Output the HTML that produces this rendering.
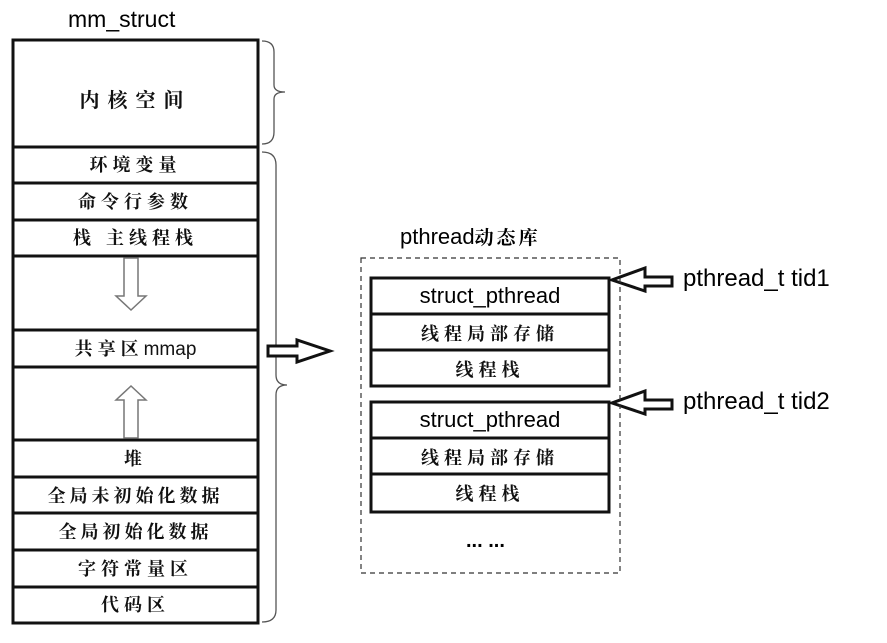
<!DOCTYPE html>
<html><head><meta charset="utf-8"><style>
body{margin:0;width:887px;height:643px;background:#fff;overflow:hidden;position:relative;font-family:"Liberation Sans","Noto Sans CJK SC",sans-serif;}
.t{position:absolute;white-space:nowrap;color:#000}
.c{position:absolute;text-align:center;font-family:"Liberation Sans","Noto Serif CJK SC",serif;font-weight:bold;font-size:18px;letter-spacing:5px;color:#111}
</style></head><body>
<svg width="887" height="643" style="position:absolute;left:0;top:0">
<g stroke="#111" stroke-width="3" fill="none">
<rect x="13" y="40" width="245" height="583"/>
<line x1="13" y1="147" x2="258" y2="147"/>
<line x1="13" y1="183" x2="258" y2="183"/>
<line x1="13" y1="220" x2="258" y2="220"/>
<line x1="13" y1="256" x2="258" y2="256"/>
<line x1="13" y1="330" x2="258" y2="330"/>
<line x1="13" y1="367" x2="258" y2="367"/>
<line x1="13" y1="440" x2="258" y2="440"/>
<line x1="13" y1="477" x2="258" y2="477"/>
<line x1="13" y1="513" x2="258" y2="513"/>
<line x1="13" y1="550" x2="258" y2="550"/>
<line x1="13" y1="587" x2="258" y2="587"/>
<rect x="371" y="278" width="238" height="108"/>
<line x1="371" y1="314" x2="609" y2="314"/>
<line x1="371" y1="350" x2="609" y2="350"/>
<rect x="371" y="402" width="238" height="110"/>
<line x1="371" y1="438" x2="609" y2="438"/>
<line x1="371" y1="474" x2="609" y2="474"/>
</g>
<g stroke="#555" stroke-width="1.3" fill="none">
<path d="M262 41 Q274 41 274 52 L274 85 Q274 92 285 92 Q274 92 274 99 L274 132 Q274 144 262 144"/>
<path d="M262 152 Q276 152 276 165 L276 375 Q276 385 287 385 Q276 385 276 395 L276 610 Q276 622 262 622"/>
</g>
<g stroke="#777" stroke-width="1.5" fill="#fff">
<path d="M124 258 L138 258 L138 296 L146 296 L131 310 L116 296 L124 296 Z"/>
<path d="M124 438 L138 438 L138 400 L146 400 L131 386 L116 400 L124 400 Z"/>
</g>
<g stroke="#111" stroke-width="3" fill="#fff">
<path d="M268 346 L297 346 L297 340 L330 351 L297 362 L297 356 L268 356 Z"/>
<path d="M672 277 L645 277 L645 268 L612 280 L645 291 L645 286 L672 286 Z"/>
<path d="M672 400 L645 400 L645 391 L612 403 L645 414 L645 409 L672 409 Z"/>
</g>
<rect x="361" y="258" width="259" height="315" fill="none" stroke="#333" stroke-width="1.2" stroke-dasharray="5,4"/>
</svg>
<div class="t" style="left:68px;top:6px;font-size:23px">mm_struct</div>
<div class="c" style="left:13px;width:245px;top:84px;font-size:20px;letter-spacing:8px">内核空间</div>
<div class="c" style="left:13px;width:245px;top:151px">环境变量</div>
<div class="c" style="left:13px;width:245px;top:188px">命令行参数</div>
<div class="c" style="left:13px;width:245px;top:224px">栈 主线程栈</div>
<div class="c" style="left:13px;width:245px;top:335px"><span>共享区</span><span style="font-family:'Liberation Sans',sans-serif;font-weight:normal;letter-spacing:0;font-size:19px">mmap</span></div>
<div class="c" style="left:13px;width:245px;top:445px">堆</div>
<div class="c" style="left:13px;width:245px;top:482px;letter-spacing:4px">全局未初始化数据</div>
<div class="c" style="left:13px;width:245px;top:518px;letter-spacing:4px">全局初始化数据</div>
<div class="c" style="left:13px;width:245px;top:555px">字符常量区</div>
<div class="c" style="left:13px;width:245px;top:591px">代码区</div>
<div class="t" style="left:400px;top:223px;font-size:22px">pthread<span style="font-family:'Noto Serif CJK SC',serif;font-weight:bold;font-size:19px;letter-spacing:3px">动态库</span></div>
<div class="t" style="left:371px;width:238px;text-align:center;top:283px;font-size:22px">struct_pthread</div>
<div class="c" style="left:371px;width:238px;top:320px">线程局部存储</div>
<div class="c" style="left:371px;width:238px;top:356px">线程栈</div>
<div class="t" style="left:371px;width:238px;text-align:center;top:407px;font-size:22px">struct_pthread</div>
<div class="c" style="left:371px;width:238px;top:444px">线程局部存储</div>
<div class="c" style="left:371px;width:238px;top:480px">线程栈</div>
<div class="t" style="left:466px;top:530px;font-size:20px;font-weight:bold">... ...</div>
<div class="t" style="left:683px;top:265px;font-size:24px">pthread_t tid1</div>
<div class="t" style="left:683px;top:388px;font-size:24px">pthread_t tid2</div>
</body></html>
